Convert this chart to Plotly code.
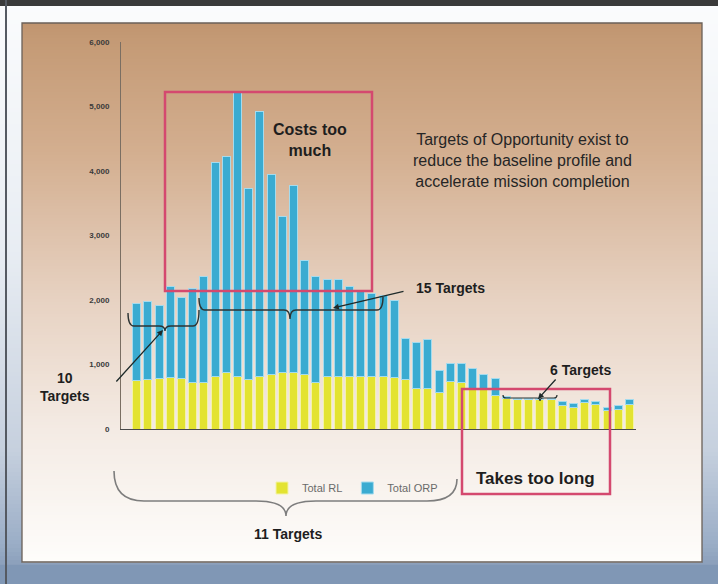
import plotly.graph_objects as go

# ---------------- data ----------------
target_idx = list(range(1, 46))
total_rl = [750, 770, 780, 800, 790, 720, 720, 810, 870, 810,
            770, 820, 850, 870, 870, 850, 715, 820, 820, 815,
            810, 815, 815, 800, 770, 635, 635, 565, 740, 720,
            630, 620, 520, 480, 460, 460, 460, 460, 360, 335,
            415, 380, 280, 310, 380]
total_orp = [1200, 1210, 1140, 1410, 1250, 1460, 1650, 3320, 3350, 4420,
             2960, 4100, 3100, 2430, 2910, 1770, 1650, 1500, 1500, 1390,
             1320, 1290, 1250, 1200, 640, 700, 750, 340, 270, 300,
             310, 220, 270, 30, 10, 10, 10, 15, 60, 60,
             45, 40, 60, 60, 70]
y_tick_vals = [0, 1000, 2000, 3000, 4000, 5000, 6000]
y_tick_text = ["0", "1,000", "2,000", "3,000", "4,000", "5,000", "6,000"]
series_names = ["Total RL", "Total ORP"]

# ---------------- geometry helpers ----------------
W, H = 718, 584
ML, MR, MT, MB = 121, 82, 42, 155
PW = W - ML - MR
PH = H - MT - MB
FONT = "Liberation Sans, Arial, sans-serif"


def px(x):
    return (x - ML) / PW


def py(y):
    return (H - MB - y) / PH


def hex2rgb(h):
    h = h.lstrip("#")
    return [int(h[i:i + 2], 16) for i in (0, 2, 4)]


def interp(stops, y):
    for (y0, c0), (y1, c1) in zip(stops[:-1], stops[1:]):
        if y0 <= y <= y1:
            t = (y - y0) / (y1 - y0) if y1 > y0 else 0
            a, b = hex2rgb(c0), hex2rgb(c1)
            r = [round(a[i] + (b[i] - a[i]) * t) for i in range(3)]
            return "rgb(%d,%d,%d)" % tuple(r)
    return stops[-1][1]


shapes = []


def grad_rect(x0, x1, y0, y1, stops, step=3):
    y = y0
    while y < y1:
        ye = min(y + step, y1)
        shapes.append(dict(type="rect", xref="paper", yref="paper",
                           x0=px(x0), x1=px(x1), y0=py(y), y1=py(ye + 0.6),
                           fillcolor=interp(stops, (y + ye) / 2),
                           line=dict(width=0), layer="below"))
        y = ye


def solid(x0, x1, y0, y1, color):
    shapes.append(dict(type="rect", xref="paper", yref="paper", x0=px(x0), x1=px(x1),
                       y0=py(y0), y1=py(y1), fillcolor=color,
                       line=dict(width=0), layer="below"))


# outer frame gradient
outer_stops = [(0, "#fbfcfd"), (250, "#e8edf3"), (450, "#c6d0de"),
               (545, "#9aadc6"), (584, "#7c92b0")]
grad_rect(0, W, 0, H, outer_stops, step=4)
solid(0, W, 565, H, "#8097b5")          # bottom blue band
solid(0, W, 0, 6, "#3a3a3a")            # dark top edge
solid(5, 7, 0, H, "#555a62")            # dark left edge

# panel gradient
panel_stops = [(23, "#c09570"), (40, "#c49a75"), (150, "#d3ae8f"), (300, "#e7d2c2"),
               (430, "#f4ebe4"), (562, "#fefdfb")]
grad_rect(22, 702, 23, 562, panel_stops, step=3)
shapes.append(dict(type="rect", xref="paper", yref="paper", x0=px(22), x1=px(702),
                   y0=py(23), y1=py(562), fillcolor="rgba(0,0,0,0)",
                   line=dict(color="#6a6058", width=1.3), layer="below"))

PINK = "#d4496f"
# "Costs too much" box
shapes.append(dict(type="rect", xref="paper", yref="paper", x0=px(165), x1=px(372),
                   y0=py(92), y1=py(291), line=dict(color=PINK, width=2.5)))
# "Takes too long" box
shapes.append(dict(type="rect", xref="paper", yref="paper", x0=px(462), x1=px(610),
                   y0=py(389), y1=py(494), line=dict(color=PINK, width=2.5)))


def brace(x1, x2, y, h1, h2, xt, d, r, color, width):
    pth = "M%.5f,%.5f" % (px(x1), py(y - h1))
    pth += " Q%.5f,%.5f %.5f,%.5f" % (px(x1), py(y), px(x1 + r), py(y))
    pth += " L%.5f,%.5f" % (px(xt - r), py(y))
    pth += " Q%.5f,%.5f %.5f,%.5f" % (px(xt), py(y), px(xt), py(y + d))
    pth += " Q%.5f,%.5f %.5f,%.5f" % (px(xt), py(y), px(xt + r), py(y))
    pth += " L%.5f,%.5f" % (px(x2 - r), py(y))
    pth += " Q%.5f,%.5f %.5f,%.5f" % (px(x2), py(y), px(x2), py(y - h2))
    shapes.append(dict(type="path", xref="paper", yref="paper", path=pth,
                       line=dict(color=color, width=width)))


brace(114, 457, 501, 30, 22, 286, 15, 30, "#7d7d7d", 1.6)   # 11 targets
brace(128, 199, 326, 13, 16, 165, 5, 6, "#2c3434", 1.4)     # 10 targets
brace(199, 383, 310, 12, 13, 290, 9, 6, "#2c3434", 1.4)     # 15 targets
brace(503, 557, 398, 3, 3, 540, 3, 3, "#2c3434", 1.2)       # 6 targets

# ---------------- traces ----------------
fig = go.Figure()
fig.add_trace(go.Bar(x=target_idx, y=total_rl, name=series_names[0],
                     marker=dict(color="#e3e331", line=dict(color="#f3f3a8", width=1))))
fig.add_trace(go.Bar(x=target_idx, y=total_orp, name=series_names[1],
                     marker=dict(color="#3aabd1", line=dict(color="#a4dbee", width=1))))

# ---------------- annotations ----------------
ann = []


def text(x, y, s, size=14, bold=True, color="#1e1e1e", align="center"):
    ann.append(dict(xref="paper", yref="paper", x=px(x), y=py(y), text=s,
                    showarrow=False, xanchor="center", yanchor="middle",
                    align=align,
                    font=dict(family=FONT, size=size, color=color,
                              weight="bold" if bold else "normal")))


def arrow(hx, hy, tx, ty):
    ann.append(dict(xref="paper", yref="paper", x=px(hx), y=py(hy), text="",
                    showarrow=True, ax=tx - hx, ay=ty - hy, axref="pixel", ayref="pixel",
                    arrowhead=2, arrowsize=0.9, arrowwidth=1.3, arrowcolor="#1e2a2a"))


text(310, 140, "Costs too<br>much", size=16)
text(522, 160, "Targets of Opportunity exist to<br>reduce the baseline profile and<br>"
     "accelerate mission completion", size=16, bold=False, color="#262626")
text(450, 288, "15 Targets", size=14)
text(65, 387, "10<br>Targets", size=14)
text(580, 370, "6 Targets", size=14)
text(535, 478, "Takes too long", size=17)
text(288, 534, "11 Targets", size=14)
arrow(163, 330, 115, 383)
arrow(333, 308, 405, 291)
arrow(538, 399, 557, 378)

fig.update_layout(
    width=W, height=H,
    margin=dict(l=ML, r=MR, t=MT, b=MB, pad=0),
    paper_bgcolor="#f4f6f9",
    plot_bgcolor="rgba(0,0,0,0)",
    barmode="stack",
    bargap=0.29,
    shapes=shapes,
    annotations=ann,
    showlegend=True,
    legend=dict(orientation="h", x=px(262), y=py(488), xanchor="left", yanchor="middle",
                bgcolor="rgba(0,0,0,0)", font=dict(family=FONT, size=11, color="#6a6a6a"),
                itemwidth=30, traceorder="normal"),
    font=dict(family=FONT),
    xaxis=dict(range=[-0.4, 45.58], showticklabels=False, ticks="", showgrid=False,
               zeroline=False, showline=True, linecolor="#4a4a4a", linewidth=1.2),
    yaxis=dict(range=[0, 6000], tickvals=y_tick_vals, ticktext=y_tick_text,
               ticks="", ticklabelstandoff=9, showgrid=False, zeroline=False,
               showline=True, linecolor="#7a6e62", linewidth=1,
               tickfont=dict(family=FONT, size=8, color="#3a3a3a", weight="bold")),
)

fig.write_html("out.html", config={"displayModeBar": False},
               post_script="document.body.style.margin='0';document.body.style.overflow='hidden';")
